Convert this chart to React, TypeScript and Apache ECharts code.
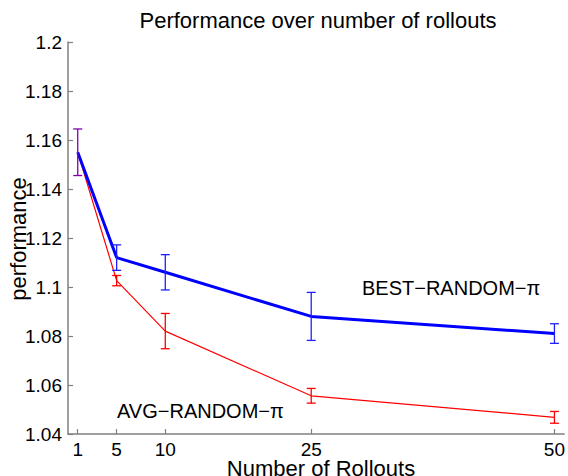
import React, { useEffect, useRef } from "react";
import * as echarts from "echarts";

const rollouts = [1, 5, 10, 25, 50];
const bestMean = [1.155, 1.112, 1.106, 1.088, 1.081];
const bestErr = [0.0095, 0.0052, 0.0072, 0.0098, 0.004];
const avgMean = [1.155, 1.1026, 1.082, 1.0556, 1.0468];
const avgErr = [0.0095, 0.0021, 0.0072, 0.003, 0.0024];
const yMin = 1.04;
const yMax = 1.2;
const yStep = 0.02;
const xMin = 0;
const xMax = 51;
const titleText = "Performance over number of rollouts";
const xName = "Number of Rollouts";
const yName = "performance";
const bestLabel = "BEST\u2212RANDOM\u2212\u03c0";
const avgLabel = "AVG\u2212RANDOM\u2212\u03c0";

const FONT = "Liberation Sans, Arial, Helvetica, sans-serif";

function errData(means: number[], errs: number[]) {
  return rollouts.map((x, i) => [x, means[i] - errs[i], means[i] + errs[i]]);
}

function makeErrRender(color: string, overlapColor: string | null, other: number[][]) {
  return (params: any, api: any) => {
    const x = api.value(0);
    const lo = api.value(1);
    const hi = api.value(2);
    const pLo = api.coord([x, lo]);
    const pHi = api.coord([x, hi]);
    const o = other[params.dataIndex];
    const overlap = !!o && o[0] === x && Math.abs(o[1] - lo) < 1e-4 && Math.abs(o[2] - hi) < 1e-4;
    if (overlap && overlapColor === null) return null;
    const c = overlap && overlapColor ? overlapColor : color;
    const hw = 4.5;
    const style = { stroke: c, lineWidth: 1.3 };
    return {
      type: "group",
      children: [
        { type: "line", shape: { x1: pLo[0], y1: pLo[1], x2: pHi[0], y2: pHi[1] }, style },
        { type: "line", shape: { x1: pLo[0] - hw, y1: pLo[1], x2: pLo[0] + hw, y2: pLo[1] }, style },
        { type: "line", shape: { x1: pHi[0] - hw, y1: pHi[1], x2: pHi[0] + hw, y2: pHi[1] }, style },
      ],
    };
  };
}

export default function App() {
  const ref = useRef<HTMLDivElement>(null);
  useEffect(() => {
    if (!ref.current) return;
    const chart = echarts.init(ref.current, undefined, { renderer: "svg" });
    const bestErrData = errData(bestMean, bestErr);
    const avgErrData = errData(avgMean, avgErr);
    chart.setOption({
      animation: false,
      backgroundColor: "#fff",
      textStyle: { fontFamily: FONT },
      grid: { left: 68, right: 2, top: 42, bottom: 42, containLabel: false },
      xAxis: {
        type: "value",
        min: xMin,
        max: xMax,
        axisLine: { show: true, lineStyle: { color: "#808080", width: 1.5 } },
        axisTick: { show: true, inside: true, length: 5, customValues: rollouts, lineStyle: { color: "#808080", width: 1.2 } },
        axisLabel: { show: true, customValues: rollouts, fontSize: 19, color: "#000", margin: 6, fontFamily: FONT },
        splitLine: { show: false },
      },
      yAxis: {
        type: "value",
        min: yMin,
        max: yMax,
        interval: yStep,
        axisLine: { show: true, lineStyle: { color: "#808080", width: 1.5 } },
        axisTick: { show: true, inside: true, length: 5, lineStyle: { color: "#808080", width: 1.2 } },
        axisLabel: {
          fontSize: 19,
          color: "#000",
          margin: 6,
          fontFamily: FONT,
          formatter: (v: number) => String(+v.toFixed(2)),
        },
        splitLine: { show: false },
      },
      graphic: [
        {
          type: "text",
          x: 318,
          y: 20,
          style: { text: titleText, fill: "#000", font: `22px ${FONT}`, textAlign: "center", textVerticalAlign: "middle" },
        },
        {
          type: "text",
          x: 321,
          y: 468,
          style: { text: xName, fill: "#000", font: `22px ${FONT}`, textAlign: "center", textVerticalAlign: "middle" },
        },
        {
          type: "text",
          x: 18,
          y: 239,
          rotation: Math.PI / 2,
          style: { text: yName, fill: "#000", font: `22px ${FONT}`, textAlign: "center", textVerticalAlign: "middle" },
        },
        {
          type: "text",
          x: 362,
          y: 288,
          style: { text: bestLabel, fill: "#000", font: `20px ${FONT}`, textAlign: "left", textVerticalAlign: "middle" },
        },
        {
          type: "text",
          x: 117,
          y: 411,
          style: { text: avgLabel, fill: "#000", font: `20px ${FONT}`, textAlign: "left", textVerticalAlign: "middle" },
        },
      ],
      series: [
        {
          type: "line",
          name: "AVG",
          data: rollouts.map((x, i) => [x, avgMean[i]]),
          symbol: "none",
          lineStyle: { color: "#ff0000", width: 1.2 },
          z: 2,
        },
        {
          type: "custom",
          name: "AVG err",
          data: avgErrData,
          renderItem: makeErrRender("#ff0000", null, bestErrData),
          encode: { x: 0, y: [1, 2] },
          z: 3,
        },
        {
          type: "line",
          name: "BEST",
          data: rollouts.map((x, i) => [x, bestMean[i]]),
          symbol: "none",
          lineStyle: { color: "#0000ff", width: 3 },
          z: 4,
        },
        {
          type: "custom",
          name: "BEST err",
          data: bestErrData,
          renderItem: makeErrRender("#2020ff", "#8000b0", avgErrData),
          encode: { x: 0, y: [1, 2] },
          z: 5,
        },
      ],
    });
    return () => chart.dispose();
  }, []);
  return <div ref={ref} style={{ position: "fixed", left: 0, top: 0, width: 568, height: 476 }} />;
}
